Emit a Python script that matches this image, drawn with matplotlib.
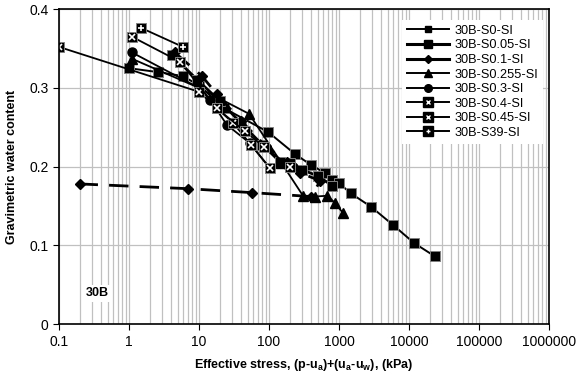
import matplotlib

matplotlib.use("Agg")

import matplotlib.pyplot as plt
from matplotlib.lines import Line2D
from matplotlib.ticker import FixedLocator, FuncFormatter, LogLocator, NullFormatter

plt.rcParams["font.family"] = ["Liberation Sans", "DejaVu Sans"]
plt.rcParams["mathtext.fontset"] = "custom"
plt.rcParams["mathtext.rm"] = "Liberation Sans"
plt.rcParams["mathtext.bf"] = "Liberation Sans:bold"

# --- data ---
s0_x = [1.0, 2.6, 5.9, 10, 23, 97, 235, 400, 630, 800, 1000, 1480, 2870, 5900, 11800, 23500]
s0_w = [0.325, 0.320, 0.315, 0.303, 0.274, 0.244, 0.216, 0.202, 0.192, 0.183, 0.179, 0.166, 0.149, 0.126, 0.103, 0.086]

s005_x = [4.1, 9.5, 20, 40, 80, 144, 200, 300, 500, 800]
s005_w = [0.342, 0.310, 0.283, 0.255, 0.228, 0.206, 0.204, 0.196, 0.188, 0.176]

s01_x = [4.5, 11, 18, 40, 90, 180, 280, 540, 400, 57, 7, 0.2]
s01_w = [0.345, 0.315, 0.292, 0.258, 0.226, 0.206, 0.192, 0.182, 0.162, 0.167, 0.172, 0.178]

s0255_x = [1.1, 10, 52, 150, 306, 450, 674, 877, 1140]
s0255_w = [0.337, 0.300, 0.267, 0.205, 0.163, 0.162, 0.163, 0.154, 0.141]

s03_x = [1.1, 10, 14.4, 25, 53, 103, 220]
s03_w = [0.345, 0.300, 0.285, 0.253, 0.230, 0.198, 0.200]

s04_x = [0.1, 10, 31, 55, 103]
s04_w = [0.352, 0.295, 0.255, 0.228, 0.198]

s045_x = [1.1, 5.4, 18, 45, 85, 200]
s045_w = [0.365, 0.333, 0.274, 0.245, 0.225, 0.200]

s39_x = [1.5, 5.9]
s39_w = [0.376, 0.352]

x_ticks = [0.1, 1, 10, 100, 1000, 10000, 100000, 1000000]
y_ticks = [0, 0.1, 0.2, 0.3, 0.4]

labels = ["30B-S0-SI", "30B-S0.05-SI", "30B-S0.1-SI", "30B-S0.255-SI",
          "30B-S0.3-SI", "30B-S0.4-SI", "30B-S0.45-SI", "30B-S39-SI"]

fig = plt.figure(figsize=(5.82, 3.80), dpi=100)
ax = fig.add_axes([0.1014, 0.147, 0.8419, 0.829])

edge = "#808080"

ax.plot(s0_x, s0_w, color="black", lw=1.4, marker="s", ms=6.5,
        mfc="black", mec=edge, mew=0.7)
ax.plot(s005_x, s005_w, color="black", lw=2.0, marker="s", ms=6.5,
        mfc="black", mec=edge, mew=0.7)
ax.plot(s01_x, s01_w, color="black", lw=2.0, dashes=(7, 4), marker="D",
        ms=5.5, mfc="black", mec="black")
ax.plot(s0255_x, s0255_w, color="black", lw=1.3, marker="^", ms=6.5,
        mfc="black", mec="black")
ax.plot(s03_x, s03_w, color="black", lw=1.3, marker="o", ms=6.5,
        mfc="black", mec="black")

for xs, ws, sym in [(s04_x, s04_w, "x"), (s045_x, s045_w, "x"), (s39_x, s39_w, "+")]:
    ax.plot(xs, ws, color="black", lw=1.3, marker="s", ms=7.5,
            mfc="black", mec=edge, mew=0.7)
    ax.plot(xs, ws, ls="none", marker=sym, ms=4.5, mec="white", mew=1.2)

# legend proxies (legend markers are drawn smaller than on the plot)
handles = [
    Line2D([], [], color="black", lw=1.4, marker="s", ms=3.8),
    Line2D([], [], color="black", lw=2.2, marker="s", ms=5.8),
    Line2D([], [], color="black", lw=2.2, marker="D", ms=4.5),
    Line2D([], [], color="black", lw=1.4, marker="^", ms=5.5),
    Line2D([], [], color="black", lw=1.4, marker="o", ms=5.5),
]
for sym in ["x", "x", "+"]:
    base = Line2D([], [], color="black", lw=1.4, marker="s", ms=7.5, mfc="black", mec="black")
    top = Line2D([], [], ls="none", marker=sym, ms=3.5, mec="white", mew=1.0)
    handles.append((base, top))

ax.set_xscale("log")
ax.set_xlim(0.1, 1000000)
ax.set_ylim(0, 0.4)
ax.xaxis.set_major_locator(FixedLocator(x_ticks))
ax.xaxis.set_major_formatter(FuncFormatter(lambda v, p: f"{v:g}" if v < 1 else f"{int(round(v))}"))
ax.xaxis.set_minor_locator(LogLocator(base=10, subs=range(2, 10), numticks=20))
ax.xaxis.set_minor_formatter(NullFormatter())
ax.yaxis.set_major_locator(FixedLocator(y_ticks))
ax.yaxis.set_major_formatter(FuncFormatter(lambda v, p: f"{v:g}"))

ax.grid(which="major", axis="both", color="#c0c0c0", lw=0.9)
ax.grid(which="minor", axis="x", color="#c0c0c0", lw=0.9)
ax.set_axisbelow(True)
ax.tick_params(which="minor", length=0)
ax.tick_params(which="major", direction="out", length=4, labelsize=10, colors="black")
for sp in ax.spines.values():
    sp.set_color("black")
    sp.set_linewidth(1.2)

ax.set_xlabel(r"Effective stress, (p-u$_\mathbf{a}$)+(u$_\mathbf{a}$-u$_\mathbf{w}$), (kPa)",
              fontsize=9, fontweight="bold", labelpad=6)
ax.set_ylabel("Gravimetric water content", fontsize=9, fontweight="bold", labelpad=8)

ax.text(0.35, 0.039, "30B", fontsize=9, fontweight="bold", ha="center", va="center",
        bbox=dict(facecolor="white", edgecolor="none", pad=2))

leg = ax.legend(handles, labels, loc="upper right", bbox_to_anchor=(0.988, 0.966),
                fontsize=9.2, numpoints=1, handlelength=3.3, handletextpad=0.4,
                labelspacing=0.2, borderpad=0.4, borderaxespad=0, frameon=True,
                fancybox=False, framealpha=1, edgecolor="white")
leg.get_frame().set_linewidth(0)

fig.savefig("out.png", dpi=100)
